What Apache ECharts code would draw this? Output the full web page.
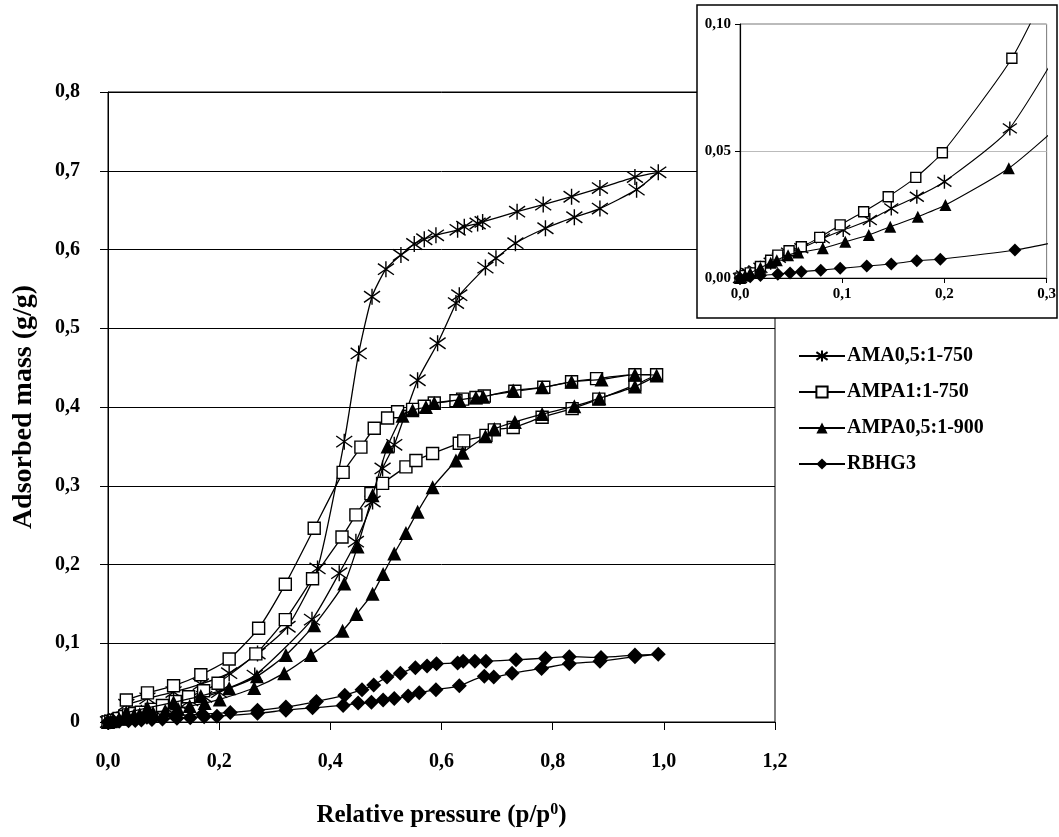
<!DOCTYPE html>
<html>
<head>
<meta charset="utf-8">
<script src="https://cdn.jsdelivr.net/npm/echarts@6/dist/echarts.min.js"></script>
<style>
    html, body { margin: 0; padding: 0; background: #fff; }
    #e_charts { width: 1059px; height: 837px; }
</style>
</head>
<body>
<div id="e_charts"></div>
<script>
// series names (legend)
var seriesNames = ['AMA0,5:1-750', 'AMPA1:1-750', 'AMPA0,5:1-900', 'RBHG3'];

// axis ticks
var xTicksMain = [0, 0.2, 0.4, 0.6, 0.8, 1.0, 1.2];
var yTicksMain = [0, 0.1, 0.2, 0.3, 0.4, 0.5, 0.6, 0.7, 0.8];
var xTicksInset = [0, 0.1, 0.2, 0.3];
var yTicksInset = [0, 0.05, 0.10];

// AMA0,5:1-750 (star) adsorption / desorption, [p/p0, g/g]
var amaAds = [[0, 0], [0.003, 0.001], [0.008, 0.002], [0.015, 0.003], [0.02, 0.004], [0.03, 0.006],
    [0.038, 0.008], [0.047, 0.010], [0.06, 0.0117], [0.081, 0.0156], [0.101, 0.0189], [0.127, 0.0228],
    [0.148, 0.0274], [0.173, 0.032], [0.2, 0.0379], [0.264, 0.0589], [0.367, 0.130], [0.416, 0.189],
    [0.446, 0.229], [0.476, 0.280], [0.494, 0.322], [0.515, 0.352], [0.557, 0.434], [0.593, 0.481],
    [0.626, 0.532], [0.632, 0.542], [0.679, 0.577], [0.698, 0.589], [0.733, 0.608], [0.787, 0.627],
    [0.839, 0.641], [0.885, 0.652], [0.951, 0.676], [0.990, 0.698]];
var amaDes = [[0.948, 0.692], [0.885, 0.678], [0.834, 0.667], [0.783, 0.657], [0.736, 0.648],
    [0.674, 0.635], [0.665, 0.633], [0.641, 0.629], [0.629, 0.625], [0.590, 0.618], [0.569, 0.613],
    [0.551, 0.607], [0.527, 0.593], [0.500, 0.575], [0.475, 0.540], [0.451, 0.468], [0.425, 0.356],
    [0.377, 0.195], [0.323, 0.121], [0.269, 0.087], [0.218, 0.062], [0.167, 0.048], [0.118, 0.038],
    [0.071, 0.030], [0.033, 0.022]];

// AMPA1:1-750 (open square)
var ampa1Ads = [[0, 0], [0.005, 0.001], [0.01, 0.002], [0.02, 0.0045], [0.03, 0.007], [0.037, 0.009],
    [0.048, 0.0107], [0.060, 0.0123], [0.078, 0.016], [0.098, 0.0209], [0.121, 0.0261], [0.145, 0.032],
    [0.172, 0.0396], [0.198, 0.0493], [0.266, 0.0865], [0.319, 0.130], [0.368, 0.182], [0.421, 0.235],
    [0.446, 0.263], [0.473, 0.290], [0.494, 0.303], [0.536, 0.324], [0.554, 0.332], [0.584, 0.341],
    [0.632, 0.354], [0.640, 0.357], [0.680, 0.364], [0.695, 0.371], [0.729, 0.374], [0.781, 0.387],
    [0.835, 0.398], [0.883, 0.410], [0.948, 0.428], [0.987, 0.441]];
var ampa1Des = [[0.948, 0.441], [0.879, 0.436], [0.834, 0.432], [0.784, 0.425], [0.732, 0.420],
    [0.677, 0.414], [0.662, 0.412], [0.638, 0.410], [0.626, 0.408], [0.587, 0.405], [0.569, 0.401],
    [0.548, 0.397], [0.521, 0.394], [0.503, 0.386], [0.479, 0.373], [0.455, 0.349], [0.423, 0.317],
    [0.371, 0.246], [0.319, 0.175], [0.271, 0.119], [0.218, 0.080], [0.167, 0.060], [0.118, 0.046],
    [0.071, 0.037], [0.033, 0.028]];

// AMPA0,5:1-900 (filled triangle)
var ampa05Ads = [[0, 0], [0.005, 0.001], [0.01, 0.002], [0.02, 0.004], [0.03, 0.006], [0.036, 0.007],
    [0.047, 0.009], [0.057, 0.010], [0.081, 0.0117], [0.103, 0.0143], [0.126, 0.0169], [0.147, 0.0202],
    [0.174, 0.0241], [0.201, 0.0287], [0.263, 0.0432], [0.317, 0.062], [0.365, 0.085], [0.422, 0.116],
    [0.447, 0.137], [0.476, 0.163], [0.495, 0.188], [0.515, 0.214], [0.536, 0.240], [0.557, 0.267],
    [0.584, 0.298], [0.626, 0.332], [0.638, 0.342], [0.679, 0.363], [0.695, 0.372], [0.732, 0.381],
    [0.781, 0.391], [0.839, 0.401], [0.884, 0.411], [0.948, 0.426], [0.987, 0.440]];
var ampa05Des = [[0.948, 0.441], [0.888, 0.435], [0.834, 0.432], [0.781, 0.425], [0.729, 0.421],
    [0.675, 0.413], [0.662, 0.412], [0.632, 0.409], [0.587, 0.405], [0.572, 0.400], [0.548, 0.396],
    [0.530, 0.389], [0.503, 0.350], [0.476, 0.288], [0.449, 0.223], [0.425, 0.176], [0.371, 0.123],
    [0.320, 0.085], [0.268, 0.058], [0.218, 0.043], [0.167, 0.033], [0.118, 0.025], [0.071, 0.018],
    [0.033, 0.012]];

// RBHG3 (filled diamond)
var rbhgAds = [[0, 0], [0.01, 0.0005], [0.02, 0.001], [0.037, 0.0015], [0.049, 0.002], [0.060, 0.0025],
    [0.079, 0.0031], [0.098, 0.0038], [0.124, 0.0047], [0.148, 0.0055], [0.173, 0.0068], [0.196, 0.0074],
    [0.269, 0.011], [0.320, 0.015], [0.368, 0.018], [0.423, 0.021], [0.450, 0.024], [0.474, 0.025],
    [0.495, 0.028], [0.515, 0.030], [0.540, 0.033], [0.560, 0.037], [0.590, 0.041], [0.632, 0.046],
    [0.677, 0.058], [0.694, 0.057], [0.727, 0.062], [0.780, 0.068], [0.830, 0.074], [0.885, 0.077],
    [0.948, 0.083], [0.990, 0.086]];
var rbhgDes = [[0.948, 0.085], [0.887, 0.082], [0.830, 0.083], [0.787, 0.081], [0.734, 0.079],
    [0.680, 0.077], [0.660, 0.077], [0.639, 0.077], [0.629, 0.075], [0.591, 0.074], [0.574, 0.071],
    [0.553, 0.069], [0.526, 0.062], [0.502, 0.057], [0.478, 0.047], [0.457, 0.041], [0.426, 0.034],
    [0.375, 0.026], [0.320, 0.019], [0.269, 0.015], [0.22, 0.012], [0.17, 0.010], [0.12, 0.008],
    [0.07, 0.006], [0.033, 0.004]];

var app = (function () {
    var font = 'Liberation Serif';
    var starPath = 'path://M10,0L10,20M0,3L20,17M0,17L20,3';

    var markers = [
        { symbol: starPath, size: 16, itemStyle: { color: 'none', borderColor: '#000', borderWidth: 1.4 } },
        { symbol: 'rect', size: 12, itemStyle: { color: '#fff', borderColor: '#000', borderWidth: 1.4 } },
        { symbol: 'triangle', size: 14, itemStyle: { color: '#000', borderColor: '#000', borderWidth: 0 } },
        { symbol: 'diamond', size: 15, itemStyle: { color: '#000', borderColor: '#000', borderWidth: 0 } }
    ];
    var ads = [amaAds, ampa1Ads, ampa05Ads, rbhgAds];
    var des = [amaDes, ampa1Des, ampa05Des, rbhgDes];

    var fmt1 = function (v) { return v.toFixed(1).replace('.', ','); };
    var fmt2 = function (v) { return v.toFixed(2).replace('.', ','); };

    var buildSeries = function () {
        var list = [];
        seriesNames.forEach(function (name, i) {
            // main chart: full hysteresis loop
            list.push({
                name: name,
                type: 'line',
                xAxisIndex: 0,
                yAxisIndex: 0,
                smooth: 0.2,
                symbol: markers[i].symbol,
                symbolSize: markers[i].size,
                itemStyle: markers[i].itemStyle,
                lineStyle: { color: '#000', width: 1.3 },
                z: 3 + i,
                data: ads[i].concat(des[i])
            });
            // inset: adsorption branch only
            list.push({
                name: name,
                type: 'line',
                xAxisIndex: 1,
                yAxisIndex: 1,
                smooth: 0.2,
                symbol: markers[i].symbol,
                symbolSize: markers[i].size - 2,
                itemStyle: markers[i].itemStyle,
                lineStyle: { color: '#000', width: 1.1 },
                z: 130 + i,
                data: ads[i]
            });
        });
        return list;
    };

    var initChart = function () {
        var myChart = echarts.init(document.getElementById('e_charts'));
        var tickLabel = { color: '#000', fontFamily: font, fontWeight: 'bold', fontSize: 20 };
        var insetLabel = { color: '#000', fontFamily: font, fontWeight: 'bold', fontSize: 15 };
        var option = {
            animation: false,
            backgroundColor: '#fff',
            grid: [
                { left: 108, right: 284, top: 92, bottom: 115, show: true, borderColor: '#000', borderWidth: 1 },
                { left: 740, right: 10, top: 24, bottom: 559, show: true, borderColor: '#777', borderWidth: 1, z: 120 }
            ],
            xAxis: [{
                type: 'value', gridIndex: 0,
                min: xTicksMain[0], max: xTicksMain[xTicksMain.length - 1], interval: 0.2,
                axisLine: { lineStyle: { color: '#000', width: 1 } },
                axisTick: { show: true, length: 8, lineStyle: { color: '#000' } },
                axisLabel: Object.assign({ margin: 30, formatter: fmt1 }, tickLabel),
                splitLine: { show: false },
                name: '{a|Relative pressure (p/p}{s|0}{a|)}',
                nameLocation: 'middle',
                nameGap: 80,
                nameTextStyle: {
                    rich: {
                        a: { fontFamily: font, fontWeight: 'bold', fontSize: 25, color: '#000' },
                        s: { fontFamily: font, fontWeight: 'bold', fontSize: 16, color: '#000', verticalAlign: 'top', padding: [0, 0, 12, 0] }
                    }
                }
            }, {
                type: 'value', gridIndex: 1, z: 125,
                min: xTicksInset[0], max: xTicksInset[xTicksInset.length - 1], interval: 0.1,
                axisLine: { lineStyle: { color: '#000', width: 1.2 } },
                axisTick: { show: true, length: 5, lineStyle: { color: '#000' } },
                axisLabel: Object.assign({ margin: 9, formatter: fmt1 }, insetLabel),
                splitLine: { show: false }
            }],
            yAxis: [{
                type: 'value', gridIndex: 0,
                min: yTicksMain[0], max: yTicksMain[yTicksMain.length - 1], interval: 0.1,
                axisLine: { show: true, lineStyle: { color: '#000', width: 1 } },
                axisTick: { show: true, length: 8, lineStyle: { color: '#000' } },
                axisLabel: Object.assign({
                    margin: 28,
                    formatter: function (v) { return v === 0 ? '0' : fmt1(v); }
                }, tickLabel),
                splitLine: { show: true, lineStyle: { color: '#000', width: 1 } },
                name: 'Adsorbed mass (g/g)',
                nameLocation: 'middle',
                nameGap: 70,
                nameTextStyle: { fontFamily: font, fontWeight: 'bold', fontSize: 28, color: '#000' }
            }, {
                type: 'value', gridIndex: 1, z: 125,
                min: yTicksInset[0], max: yTicksInset[yTicksInset.length - 1], interval: 0.05,
                axisLine: { show: true, lineStyle: { color: '#000', width: 1.2 } },
                axisTick: { show: true, length: 5, lineStyle: { color: '#000' } },
                axisLabel: Object.assign({ margin: 9, formatter: fmt2 }, insetLabel),
                splitLine: { show: true, lineStyle: { color: '#bbb', width: 1 } }
            }],
            legend: {
                data: seriesNames,
                orient: 'vertical',
                left: 793,
                top: 341,
                itemWidth: 46,
                itemHeight: 14,
                itemGap: 16,
                textStyle: { fontFamily: font, fontWeight: 'bold', fontSize: 20, color: '#000', padding: [0, 0, 0, -3] }
            },
            graphic: [{
                type: 'rect',
                z: 100,
                shape: { x: 697, y: 5, width: 360, height: 313 },
                style: { fill: '#fff', stroke: '#000', lineWidth: 1.5 }
            }],
            series: buildSeries()
        };
        myChart.setOption(option);
    };

    return { init: initChart };
})();

app.init();
</script>
</body>
</html>
